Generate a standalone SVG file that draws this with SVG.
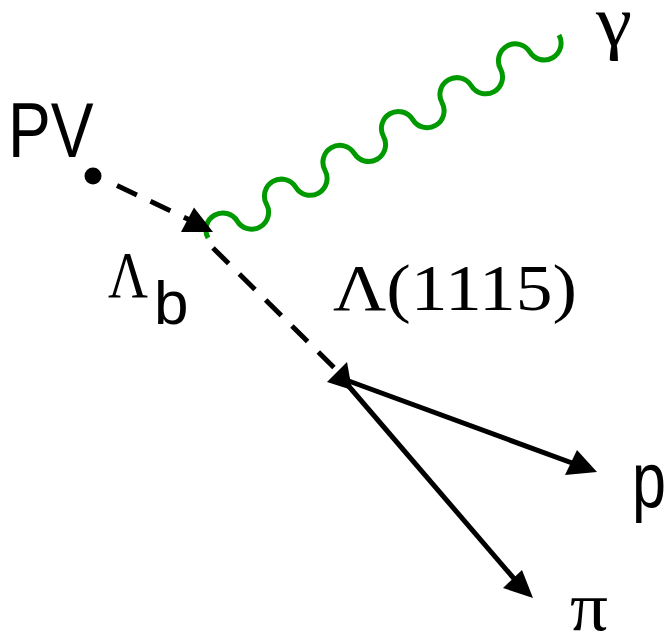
<svg xmlns="http://www.w3.org/2000/svg" width="672" height="643" viewBox="0 0 672 643">
<style>
.dash{stroke:#000;stroke-width:5;fill:none;stroke-dasharray:22 15}
.solid{stroke:#000;stroke-width:5;fill:none}
.head{fill:#000}
.photon{stroke:#009900;stroke-width:5;fill:none}
.sans{font-family:"Liberation Sans",Arial,sans-serif;fill:#000}
.serif{font-family:"Liberation Serif","Times New Roman",serif;fill:#000}
</style>
<rect width="672" height="643" fill="#fff"/>
<g id="connectors">
<line class="dash" x1="117" y1="185.5" x2="192" y2="221"/>
<line class="dash" x1="213" y1="248" x2="336" y2="369.5"/>
<line class="solid" x1="346" y1="380" x2="583" y2="467"/>
<line class="solid" x1="346" y1="383" x2="522" y2="588"/>
<path class="photon" d="M208 238 a16.9 16.9 0 0 1 29.25 -16.917 a16.9 16.9 0 0 0 29.25 -16.917 a16.9 16.9 0 0 1 29.25 -16.917 a16.9 16.9 0 0 0 29.25 -16.917 a16.9 16.9 0 0 1 29.25 -16.917 a16.9 16.9 0 0 0 29.25 -16.917 a16.9 16.9 0 0 1 29.25 -16.917 a16.9 16.9 0 0 0 29.25 -16.917 a16.9 16.9 0 0 1 29.25 -16.917 a16.9 16.9 0 0 0 29.25 -16.917 a16.9 16.9 0 0 1 29.25 -16.917 a16.9 16.9 0 0 0 29.25 -16.917"/>
<polygon class="head" points="181,232 194,207.5 213,232"/>
<polygon class="head" points="327,382 347,362 352,390"/>
<polygon class="head" points="565,475 577,450 597,472"/>
<polygon class="head" points="503,588 522,570 533,598"/>
</g>
<g id="pv">
<circle cx="93" cy="176" r="8.5" fill="#000"/>
<text class="sans" x="8" y="157" font-size="77" textLength="85.6" lengthAdjust="spacingAndGlyphs">PV</text>
</g>
<g id="lambda-b">
<text class="serif" x="108" y="297" font-size="66" textLength="40" lengthAdjust="spacingAndGlyphs">Λ</text>
<text class="sans" x="154" y="324" font-size="62">b</text>
</g>
<g id="lambda1115">
<text class="serif" x="333" y="310" font-size="66" textLength="244" lengthAdjust="spacingAndGlyphs">Λ(1115)</text>
</g>
<g id="gamma">
<text class="serif" x="596" y="46" font-size="72" textLength="36" lengthAdjust="spacingAndGlyphs">γ</text>
</g>
<g id="proton">
<text class="sans" x="632" y="507" font-size="77" textLength="34" lengthAdjust="spacingAndGlyphs">p</text>
</g>
<g id="pion">
<text class="serif" x="570" y="630" font-size="70" textLength="38" lengthAdjust="spacingAndGlyphs">π</text>
</g>
</svg>
